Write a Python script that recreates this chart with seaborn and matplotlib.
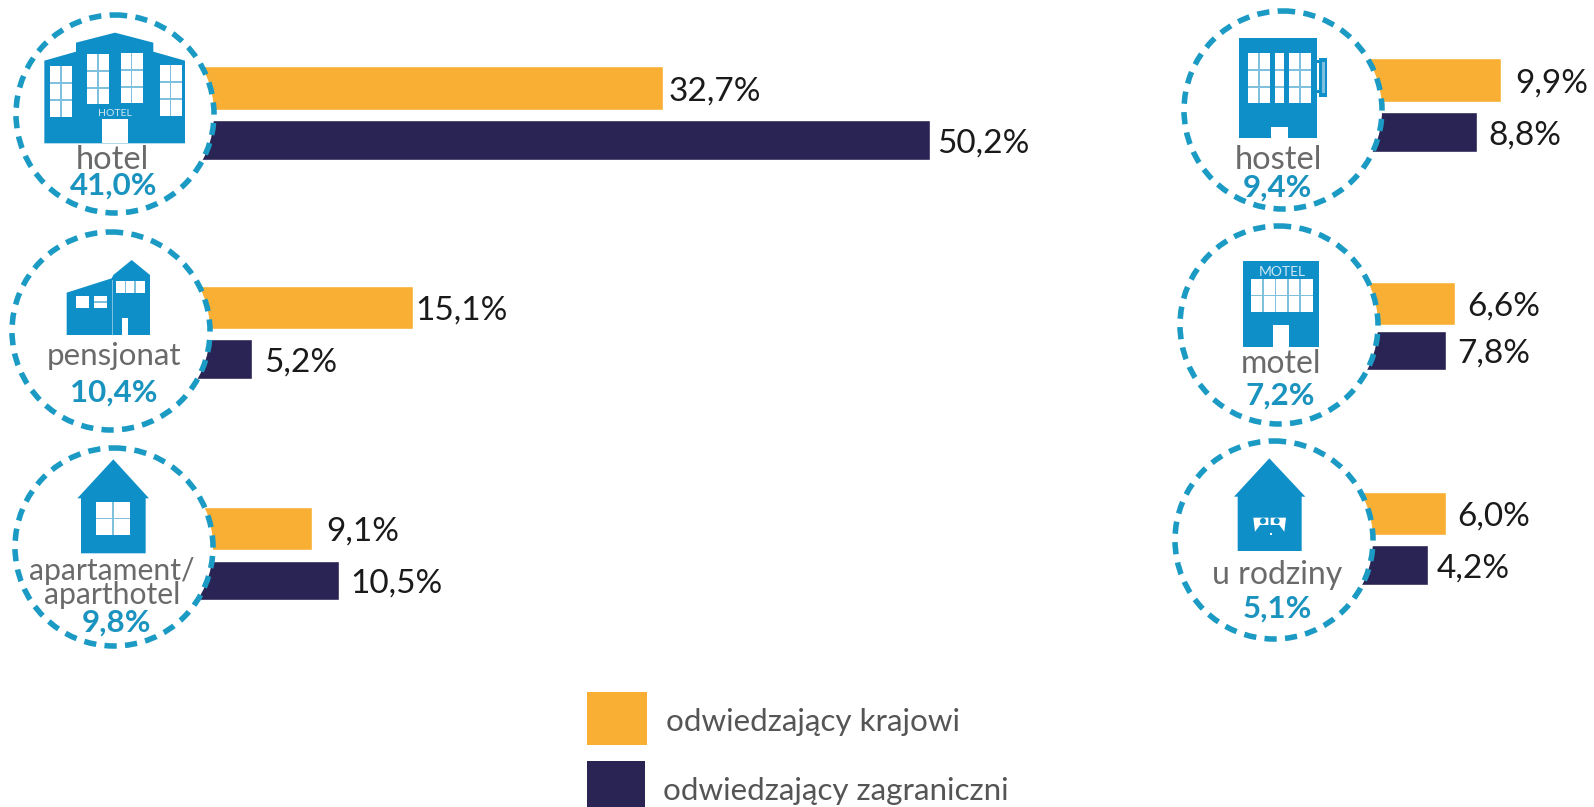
import pandas as pd
import seaborn as sns
import matplotlib.pyplot as plt
from matplotlib.patches import Circle, Polygon, Rectangle

# === data ===
categories = ["hotel", "pensjonat", "apartament/\naparthotel", "hostel", "motel", "u rodziny"]
category_share = ["41,0%", "10,4%", "9,8%", "9,4%", "7,2%", "5,1%"]
series_names = ["odwiedzający krajowi", "odwiedzający zagraniczni"]

# printed labels
labels_domestic = ["32,7%", "15,1%", "9,1%", "9,9%", "6,6%", "6,0%"]
labels_foreign = ["50,2%", "5,2%", "10,5%", "8,8%", "7,8%", "4,2%"]

# bar lengths as drawn in the source (they do not follow the labels exactly)
bars_domestic = [32.3, 15.9, 9.3, 9.9, 6.9, 6.3]
bars_foreign = [49.8, 5.4, 11.1, 8.3, 6.3, 5.1]

# === layout, in reference pixels ===
W, H = 1594, 807
PX_PER_PCT = 15.26
orange, navy, blue = "#F9AF33", "#2A2454", "#0F8FC7"
ring_blue, pct_blue, grey = "#1B9AC4", "#1A93BF", "#6A6A6A"
pane_line = "#7FC0DE"

zero_x = [170, 170, 170, 1350, 1350, 1350]
top_bars = [(66, 110), (286, 329), (507, 550), (58, 102), (282, 325), (492, 535)]
low_bars = [(120, 160), (339, 379), (561, 600), (112, 152), (331, 370), (545, 585)]
pads_domestic = [6, 3, 14, 14, 12, 11]
pads_foreign = [7, 12, 11, 12, 11, 9]
label_drop = 3.5
circles = [(115, 114), (111, 331), (114, 547), (1283, 110), (1279, 325), (1274, 540)]
name_pos = [(112, 160), (114, 356), (112, 583), (1278, 160), (1281, 364), (1277, 575)]
name_size = [23.5, 22.5, 21.7, 23.5, 23, 23]
share_pos = [(114, 186), (114, 393), (117, 623), (1277, 188), (1280, 396), (1277, 609)]

sns.set_theme(style="white")
plt.rcParams["font.family"] = ["Lato", "DejaVu Sans"]

fig = plt.figure(figsize=(W / 100, H / 100), dpi=100)


def px_axes(x0, top, width, height):
    return fig.add_axes([x0 / W, 1 - (top + height) / H, width / W, height / H])


# === bars, one small axes per category ===
for i, cat in enumerate(categories):
    c0 = sum(top_bars[i]) / 2
    c1 = sum(low_bars[i]) / 2
    step = c1 - c0
    ax_w = W - zero_x[i]
    ax = px_axes(zero_x[i], c0 - step / 2, ax_w, 2 * step)
    df = pd.DataFrame({
        "row": ["a", "b"],
        "value": [bars_domestic[i], bars_foreign[i]],
        "series": series_names,
    })
    sns.barplot(data=df, x="value", y="row", hue="series", dodge=False,
                palette=[orange, navy], legend=False, ax=ax, width=0.8, saturation=1)
    ax.set_xlim(0, ax_w / PX_PER_PCT)
    ax.set_ylim(1.5, -0.5)
    ax.axis("off")
    ax.patch.set_alpha(0)

    spans = [top_bars[i], low_bars[i]]
    texts = [labels_domestic[i], labels_foreign[i]]
    pads = [pads_domestic[i], pads_foreign[i]]
    for j, cont in enumerate(ax.containers):
        for bar in cont:
            h = (spans[j][1] - spans[j][0]) / step
            bar.set_height(h)
            bar.set_y(j - h / 2)
        for t in ax.bar_label(cont, labels=[texts[j]], padding=pads[j] * 0.72,
                              fontsize=24, color="#1A1A1A"):
            # bar_label offsets are in points
            t.set_y(-label_drop * 0.72)

# === overlay for rings, icons and legend ===
over = fig.add_axes([0, 0, 1, 1], zorder=10)
over.set_xlim(0, W)
over.set_ylim(H, 0)
over.axis("off")
over.patch.set_alpha(0)

for (cx, cy) in circles:
    over.add_patch(Circle((cx, cy), 99, facecolor="white", edgecolor=ring_blue, lw=4,
                          linestyle=(0, (2.2, 1.5)), capstyle="butt"))


def poly(ox, oy, pts, color=blue):
    over.add_patch(Polygon([(ox + x / 3, oy + y / 3) for x, y in pts], closed=True,
                           facecolor=color, edgecolor="none"))


def box(ox, oy, x0, y0, x1, y1, color="white"):
    over.add_patch(Rectangle((ox + x0 / 3, oy + y0 / 3), (x1 - x0) / 3, (y1 - y0) / 3,
                             facecolor=color, edgecolor="none"))


def window(ox, oy, x0, y0, x1, y1, cols, rows):
    box(ox, oy, x0, y0, x1, y1)
    for c in range(1, cols):
        xm = x0 + (x1 - x0) * c / cols
        box(ox, oy, xm - 2.5, y0, xm + 2.5, y1, pane_line)
    for r in range(1, rows):
        ym = y0 + (y1 - y0) * r / rows
        box(ox, oy, x0, ym - 2.5, x1, ym + 2.5, pane_line)


# hotel
poly(0, 0, [(133, 430), (133, 182), (228, 155), (228, 128), (345, 98), (460, 128),
            (460, 155), (555, 182), (555, 430)])
window(0, 0, 150, 197, 217, 350, 2, 3)
window(0, 0, 262, 163, 328, 313, 2, 3)
window(0, 0, 362, 160, 428, 310, 2, 3)
window(0, 0, 479, 195, 545, 347, 2, 3)
box(0, 0, 305, 358, 385, 430)
over.text(115, 114, "HOTEL", color="#CFE8F4", fontsize=7.5, ha="center", va="center")

# pensjonat
poly(0, 220, [(200, 345), (200, 218), (335, 175), (340, 165), (395, 120), (450, 165), (450, 345)])
window(0, 220, 347, 182, 435, 218, 3, 1)
window(0, 220, 228, 228, 268, 265, 1, 1)
window(0, 220, 282, 228, 322, 265, 1, 2)
box(0, 220, 365, 295, 385, 345)
box(0, 220, 337, 180, 340, 345, pane_line)

# apartament
poly(0, 220, [(232, 835), (340, 718), (447, 835), (437, 835), (437, 1000), (243, 1000), (243, 835)])
window(0, 220, 288, 845, 390, 945, 2, 2)

# hostel
poly(1160, 0, [(238, 115), (472, 115), (472, 415), (385, 415), (385, 380), (332, 380),
               (332, 415), (238, 415)])
window(1160, 0, 265, 160, 330, 310, 2, 3)
window(1160, 0, 345, 160, 372, 310, 1, 3)
window(1160, 0, 387, 160, 452, 310, 2, 3)
box(1160, 0, 472, 180, 480, 190, blue)
box(1160, 0, 472, 270, 480, 280, blue)
box(1160, 0, 478, 175, 500, 290, blue)
box(1160, 0, 485, 185, 495, 280, pane_line)

# motel
poly(1160, 220, [(250, 123), (477, 123), (477, 380), (388, 380), (388, 315), (338, 315),
                 (338, 380), (250, 380)])
window(1160, 220, 272, 178, 458, 275, 5, 2)
over.text(1160 + 367 / 3, 220 + 155 / 3, "MOTEL", color="#CFE8F4", fontsize=10, ha="center", va="center")

# u rodziny
poly(1160, 220, [(222, 830), (328, 715), (436, 830), (425, 830), (425, 993), (233, 993), (233, 830)])
poly(1160, 220, [(280, 893), (325, 893), (325, 915), (300, 915), (285, 935)], "white")
poly(1160, 220, [(332, 893), (378, 893), (373, 935), (358, 915), (332, 915)], "white")
for hx in (309, 350):
    over.add_patch(Circle((1160 + hx / 3, 220 + 903 / 3), 3, facecolor=blue, edgecolor="none"))
box(1160, 220, 331, 938, 337, 946)

# category names and shares
for i, cat in enumerate(categories):
    over.text(name_pos[i][0], name_pos[i][1], cat, color=grey, fontsize=name_size[i], ha="center",
              va="center", linespacing=0.82)
    over.text(share_pos[i][0], share_pos[i][1], category_share[i], color=pct_blue, fontsize=22.5,
              fontweight="bold", ha="center", va="center")

# legend
over.add_patch(Rectangle((587, 692), 60, 53, facecolor=orange, edgecolor="none"))
over.add_patch(Rectangle((587, 761), 58, 46, facecolor=navy, edgecolor="none"))
over.text(666, 722, series_names[0], color="#555555", fontsize=22.6, va="center")
over.text(663, 791, series_names[1], color="#555555", fontsize=22.6, va="center")

fig.savefig("out.png", dpi=100, facecolor="white")
